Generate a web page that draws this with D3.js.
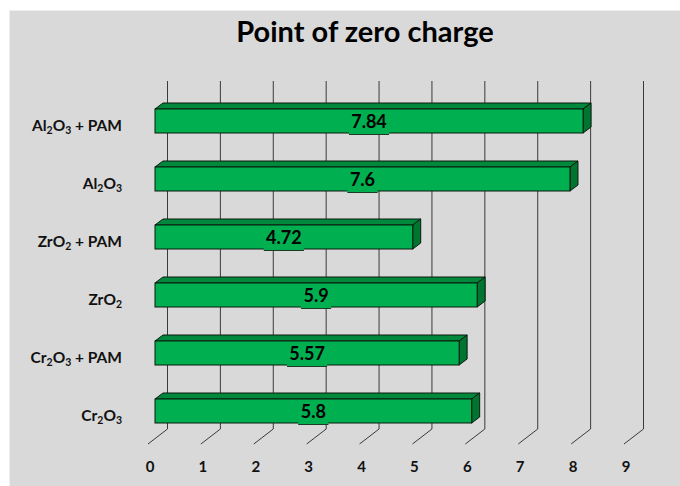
<!DOCTYPE html>
<html>
<head>
<meta charset="utf-8">
<script src="https://cdn.jsdelivr.net/npm/d3@7"></script>
<style>
body{margin:0;background:#fff;}
</style>
</head>
<body>
<div class="chart"></div>
<script>
// categories, top to bottom; each part is [text, isSubscript]
var categories=["Al2O3 + PAM","Al2O3","ZrO2 + PAM","ZrO2","Cr2O3 + PAM","Cr2O3"];
var labelParts=[
	[["Al",0],["2",1],["O",0],["3",1],[" + PAM",0]],
	[["Al",0],["2",1],["O",0],["3",1]],
	[["ZrO",0],["2",1],[" + PAM",0]],
	[["ZrO",0],["2",1]],
	[["Cr",0],["2",1],["O",0],["3",1],[" + PAM",0]],
	[["Cr",0],["2",1],["O",0],["3",1]]
];
var values=[7.84,7.6,4.72,5.9,5.57,5.8];
var ticks=[0,1,2,3,4,5,6,7,8,9];
var title="Point of zero charge";

var width=680;
var height=486;
var font="Lato, 'Open Sans', sans-serif";

var svg=d3.select('div.chart')
		.append('svg')
		.attr('width',width)
		.attr('height',height)
		.style('display','block');

svg.append('rect')
	.attr('x',9.5)
	.attr('y',10.5)
	.attr('width',width)
	.attr('height',height)
	.attr('fill','#d9d9d9')
	.attr('stroke','#efefef');

// back wall scale, bar scale (bars sit a bit further forward)
var xBack=d3.scaleLinear().domain([0,9]).range([167,643]);
var xBar=d3.scaleLinear().domain([0,9]).range([155,646.4]);
var yScale=d3.scalePoint().domain(categories).range([121,411]);

var wallTop=81, wallBottom=429;
var depthX=19, depthY=15;
var barH=24, bdx=8, bdy=6;

// gridlines on back wall + floor diagonals
var grid=svg.append('g');
grid.selectAll('line.v')
	.data(ticks)
	.enter()
	.append('line')
	.attr('x1',d=>xBack(d)+0.5)
	.attr('x2',d=>xBack(d)+0.5)
	.attr('y1',wallTop)
	.attr('y2',wallBottom)
	.attr('stroke','#3a3a3a')
	.attr('stroke-width',1);
grid.selectAll('line.d')
	.data(ticks)
	.enter()
	.append('line')
	.attr('x1',d=>xBack(d)+0.5)
	.attr('x2',d=>xBack(d)-depthX)
	.attr('y1',wallBottom)
	.attr('y2',wallBottom+depthY)
	.attr('stroke','#3a3a3a')
	.attr('stroke-width',1);

// tick labels
svg.append('g')
	.selectAll('text')
	.data(ticks)
	.enter()
	.append('text')
	.attr('x',d=>xBack(d)-17)
	.attr('y',472)
	.attr('text-anchor','middle')
	.attr('font-family',font)
	.attr('font-weight','bold')
	.attr('font-size','15px')
	.attr('fill','#111')
	.text(d=>d);

// 3d bars
var bars=svg.append('g')
		.selectAll('g')
		.data(categories)
		.enter()
		.append('g');

bars.each(function(c,i){
	var g=d3.select(this);
	var x0=xBar(0), x1=xBar(values[i]);
	var y0=yScale(c)-barH/2, y1=y0+barH;
	// top face
	g.append('path')
		.attr('d','M'+x0+','+y0+'L'+(x0+bdx)+','+(y0-bdy)+'L'+(x1+bdx)+','+(y0-bdy)+'L'+x1+','+y0+'Z')
		.attr('fill','#00893c')
		.attr('stroke','#0a1a0f')
		.attr('stroke-width',1)
		.attr('stroke-linejoin','round');
	// side face
	g.append('path')
		.attr('d','M'+x1+','+y0+'L'+(x1+bdx)+','+(y0-bdy)+'L'+(x1+bdx)+','+(y1-bdy)+'L'+x1+','+y1+'Z')
		.attr('fill','#007530')
		.attr('stroke','#0a1a0f')
		.attr('stroke-width',1)
		.attr('stroke-linejoin','round');
	// front face
	g.append('rect')
		.attr('x',x0)
		.attr('y',y0)
		.attr('width',x1-x0)
		.attr('height',barH)
		.attr('fill','#00b050')
		.attr('stroke','#0a1a0f')
		.attr('stroke-width',1);

	// value label with its own box
	var cx=(x0+x1)/2;
	var txt=String(values[i]);
	var bw=txt.length>3?40:(txt.length>2?30:26);
	g.append('rect')
		.attr('x',cx-bw/2)
		.attr('y',y0+1)
		.attr('width',bw)
		.attr('height',barH+1)
		.attr('fill','#00b050');
	g.append('line')
		.attr('x1',cx-bw/2)
		.attr('x2',cx+bw/2)
		.attr('y1',y1+1.5)
		.attr('y2',y1+1.5)
		.attr('stroke','#1d3a25')
		.attr('stroke-width',1);
	g.append('text')
		.attr('x',cx)
		.attr('y',yScale(c)+7)
		.attr('text-anchor','middle')
		.attr('font-family',font)
		.attr('font-weight','bold')
		.attr('font-size','18px')
		.attr('fill','#000')
		.text(txt);
});

// category labels with subscripts
svg.append('g')
	.selectAll('text')
	.data(categories)
	.enter()
	.append('text')
	.attr('x',122)
	.attr('y',d=>yScale(d)+10)
	.attr('text-anchor','end')
	.attr('font-family',font)
	.attr('font-weight','bold')
	.attr('font-size','15.5px')
	.attr('fill','#111')
	.each(function(d,i){
		var t=d3.select(this);
		labelParts[i].forEach(function(p){
			var s=t.append('tspan').text(p[0]);
			if(p[1]){
				s.attr('font-size','10.5px').attr('dy',3);
			}else if(t.selectAll('tspan').size()>1){
				s.attr('dy',-3);
			}
		});
	});

svg.append("text")
	.attr('x',365)
	.attr('y',42)
	.attr('text-anchor','middle')
	.attr('font-family',font)
	.attr('font-weight','bold')
	.attr('font-size','29px')
	.attr('fill','#000')
	.text(title);
</script>
</body>
</html>
